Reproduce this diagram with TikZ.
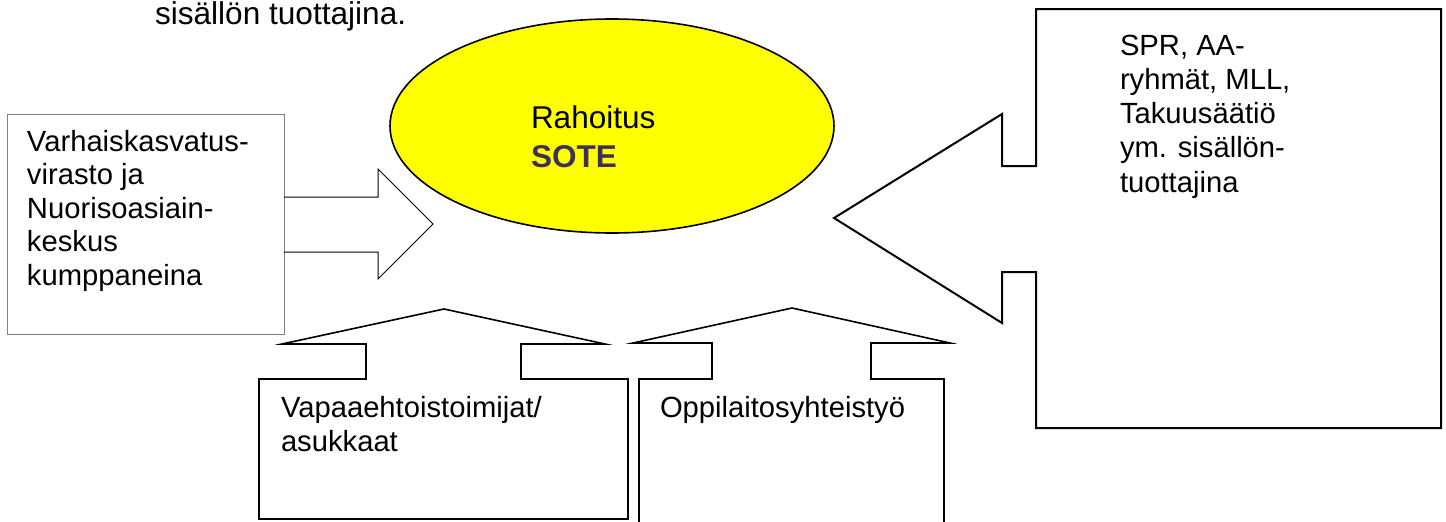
\documentclass[tikz,border=0pt]{standalone}
\usepackage{fontspec}
\setmainfont{Liberation Sans}
\usetikzlibrary{shapes.geometric}
\definecolor{sotepurple}{HTML}{3F3151}
\definecolor{elyellow}{RGB}{255,255,0}
\begin{document}
\begin{tikzpicture}[x=1pt,y=-1pt,
  txt/.style={anchor=base west, inner sep=0pt, outer sep=0pt},
  thinline/.style={draw=black, line width=1pt, line join=miter},
  midline/.style={draw=black, line width=1.6pt, line join=miter},
  thickline/.style={draw=black, line width=2pt, line join=miter}]
\useasboundingbox (0,0) rectangle (1446,522);
\clip (0,0) rectangle (1446,522);
\fill[white] (0,0) rectangle (1446,522);

% top text (cut off)
\node[txt] (toptext) at (155,24) {\fontsize{31.6}{36}\selectfont sisällön tuottajina.};

% ellipse
\node[ellipse, draw=black, line width=1.6pt, fill=elyellow, minimum width=444pt, minimum height=214pt, inner sep=0pt] (ell) at (612,126) {};
\node[txt] (rah) at (531,128) {\fontsize{31.5}{36}\selectfont Rahoitus};
\node[txt] (sote) at (531,167) {\fontsize{31.5}{36}\selectfont\bfseries\color{sotepurple}SOTE};

% left box with right arrow
\draw[draw=gray, line width=1pt] (7,114) rectangle (284,334);
\draw[thinline] (284,197) -- (378,197) -- (378,169) -- (433,224) -- (378,279) -- (378,252) -- (284,252);
\node[txt] (lefttext) at (27,151) {\parbox[t]{400pt}{\raggedright\fontsize{29.2}{33.5}\selectfont
Varhaiskasvatus-\\virasto ja\\Nuorisoasiain-\\keskus\\kumppaneina}};

% right box with left arrow
\draw[thickline] (1036,9) -- (1441,9) -- (1441,428) -- (1036,428) -- (1036,272) -- (1002,272) -- (1002,323) -- (834,218) -- (1002,114) -- (1002,166) -- (1036,166) -- cycle;
\node[txt] (righttext) at (1120,55) {\parbox[t]{400pt}{\raggedright\fontsize{29.2}{34.25}\selectfont
SPR, AA-\\ryhmät, MLL,\\Takuusäätiö\\ym. sisällön-\\tuottajina}};

% bottom box A with up arrow
\draw[midline] (259,379) -- (366,379) -- (366,344) -- (282,344) -- (444,309) -- (605,344) -- (521,344) -- (521,379) -- (628,379) -- (628,519) -- (259,519) -- cycle;
\node[txt] (vapaa) at (281,417) {\parbox[t]{400pt}{\raggedright\fontsize{29.2}{34}\selectfont
Vapaaehtoistoimijat/\\asukkaat}};

% bottom box B with up arrow
\draw[midline] (639,545) -- (639,379) -- (712,379) -- (712,343) -- (633,343) -- (792,308) -- (950,343) -- (871,343) -- (871,379) -- (944,379) -- (944,545);
\node[txt] (oppi) at (660,417) {\fontsize{29.2}{34}\selectfont Oppilaitosyhteistyö};
\end{tikzpicture}
\end{document}
